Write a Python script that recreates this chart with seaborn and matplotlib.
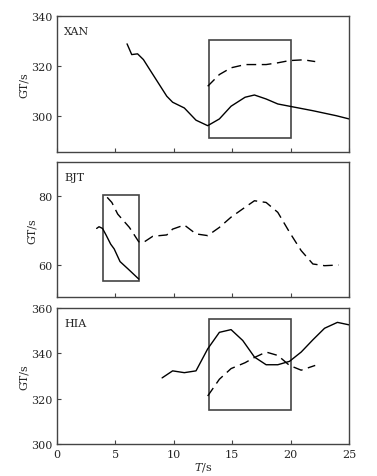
import numpy as np
import pandas as pd
import matplotlib
matplotlib.use("Agg")
import matplotlib.pyplot as plt
import seaborn as sns
from matplotlib.patches import Rectangle

# XAN
xan_solid_t = [6, 6.4, 6.9, 7.4, 7.9, 9.4, 9.9, 10.9, 11.9, 12.9, 13.9, 14.9, 16.1, 16.9, 17.9, 18.9, 19.9, 21.9, 23.9, 25]
xan_solid_v = [328.9, 324.6, 324.9, 322.6, 318.9, 307.9, 305.5, 303.2, 298.3, 296.1, 298.8, 303.9, 307.5, 308.4, 306.8, 304.8, 303.9, 302.1, 300.1, 298.8]
xan_dash_t = [12.9, 13.9, 14.9, 16.1, 17.9, 18.9, 19.9, 21.1, 22.1]
xan_dash_v = [311.9, 316.6, 319.3, 320.6, 320.6, 321.3, 322.2, 322.5, 321.8]

# BJT
bjt_solid_t = [3.4, 3.6, 3.9, 4.2, 4.6, 4.9, 5.4, 6.1, 7.0]
bjt_solid_v = [70.6, 71.1, 70.6, 68.7, 66.0, 64.6, 60.9, 58.7, 55.8]
bjt_dash_t = [4.3, 4.7, 5.2, 6.2, 7.0, 7.4, 8.2, 9.4, 9.9, 10.9, 11.9, 12.9, 13.9, 14.9, 16.1, 16.9, 17.9, 18.9, 19.9, 20.9, 21.9, 22.9, 24.1]
bjt_dash_v = [79.7, 78.2, 74.8, 70.9, 66.7, 66.5, 68.3, 68.7, 70.4, 71.6, 69.0, 68.5, 70.9, 73.9, 76.8, 78.7, 78.2, 75.3, 69.5, 64.1, 60.2, 59.7, 59.9]

# HIA
hia_solid_t = [9, 9.9, 10.9, 11.9, 12.9, 13.9, 14.9, 15.9, 16.9, 17.9, 18.9, 19.9, 20.9, 21.9, 22.9, 24, 25]
hia_solid_v = [329.2, 332.3, 331.5, 332.3, 342.0, 349.3, 350.5, 345.7, 338.4, 335.0, 335.0, 336.5, 340.6, 346.0, 351.1, 353.7, 352.6]
hia_dash_t = [12.9, 13.9, 14.9, 16.1, 16.9, 17.9, 18.9, 19.9, 20.9, 22.1]
hia_dash_v = [321.2, 328.6, 333.3, 335.9, 338.2, 340.6, 339.1, 334.7, 332.6, 334.7]

stations = ["XAN", "BJT", "HIA"]
ylims = [(285.5, 340), (50.5, 90), (300, 360)]
yticks = [[300, 320, 340], [60, 80], [300, 320, 340, 360]]
# highlight boxes: (t0, t1, v0, v1)
boxes = [(13, 20, 291, 330.6), (3.9, 7.0, 55.3, 80.5), (13, 20, 315.2, 355.2)]
series = [
    (xan_solid_t, xan_solid_v, xan_dash_t, xan_dash_v),
    (bjt_solid_t, bjt_solid_v, bjt_dash_t, bjt_dash_v),
    (hia_solid_t, hia_solid_v, hia_dash_t, hia_dash_v),
]

sns.set_style("ticks")
plt.rcParams["font.family"] = ["DejaVu Serif"]
plt.rcParams["mathtext.fontset"] = "dejavuserif"

fig = plt.figure(figsize=(3.77, 4.77), dpi=100)
rects = [(0.151, 0.679, 0.775, 0.285), (0.151, 0.375, 0.775, 0.283), (0.151, 0.067, 0.775, 0.285)]
edge = "#444444"

for i, (name, r) in enumerate(zip(stations, rects)):
    ax = fig.add_axes(r)
    st, sv, dt, dv = series[i]
    sns.lineplot(x=st, y=sv, ax=ax, color="black", linewidth=1.0)
    sns.lineplot(x=dt, y=dv, ax=ax, color="black", linewidth=1.0, linestyle=(0, (7, 4)))
    t0, t1, v0, v1 = boxes[i]
    ax.add_patch(Rectangle((t0, v0), t1 - t0, v1 - v0, fill=False, edgecolor=edge, linewidth=1.2))
    ax.set_xlim(0, 25)
    ax.set_ylim(*ylims[i])
    ax.set_xticks([0, 5, 10, 15, 20, 25])
    ax.set_yticks(yticks[i])
    ax.tick_params(direction="in", length=3, labelsize=8, color=edge)
    for s in ax.spines.values():
        s.set_color(edge)
        s.set_linewidth(1.0)
    ax.set_ylabel("GT/s", fontsize=8, labelpad=1)
    ax.text(0.024, 0.93, name, transform=ax.transAxes, fontsize=8, va="top", ha="left")
    if i < 2:
        ax.set_xticklabels([])
    else:
        ax.set_xlabel("$T$/s", fontsize=8, labelpad=1)

plt.savefig("out.png", dpi=100)
